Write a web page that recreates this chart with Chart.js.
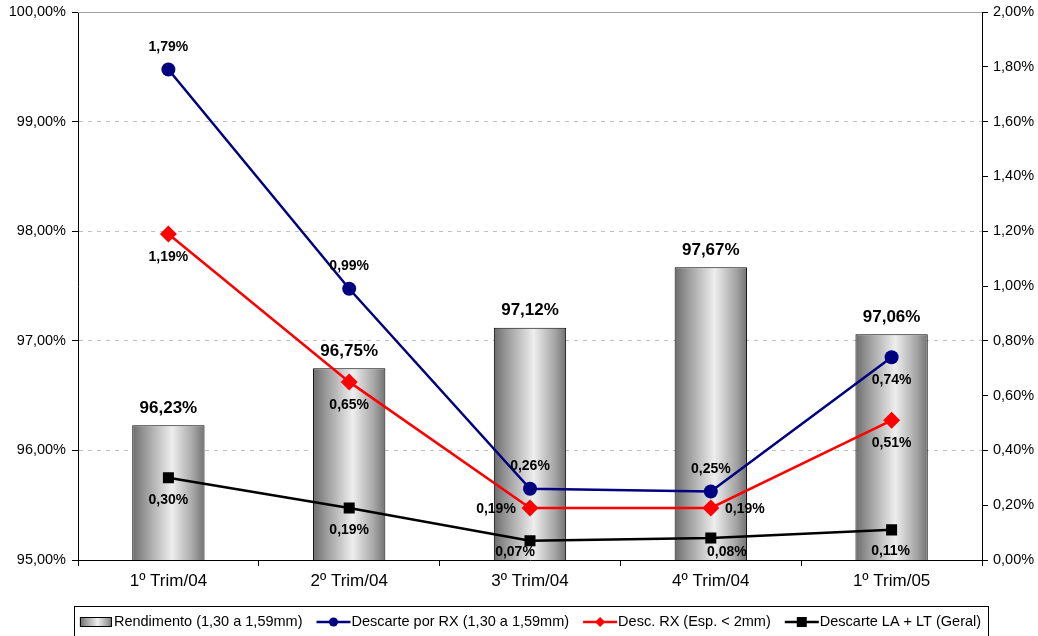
<!DOCTYPE html>
<html>
<head>
<meta charset="utf-8">
<script src="https://cdn.jsdelivr.net/npm/chart.js@4.4.1/dist/chart.umd.min.js"></script>
<style>
  html, body { margin: 0; padding: 0; background: #fff; }
  #wrap { position: relative; width: 1038px; height: 636px; }
</style>
</head>
<body>
<div id="wrap"><canvas id="chart"></canvas></div>
<script>
// Quarterly categories
const categories = ['1º Trim/04', '2º Trim/04', '3º Trim/04', '4º Trim/04', '1º Trim/05'];

// Yield (left axis, %)
const rendimento = [96.23, 96.75, 97.12, 97.67, 97.06];
// Rejections (right axis, %)
const descartePorRX = [1.79, 0.99, 0.26, 0.25, 0.74];
const descRXEsp = [1.19, 0.65, 0.19, 0.19, 0.51];
const descarteLALT = [0.30, 0.19, 0.07, 0.08, 0.11];

// Axis ranges
const leftRange = { min: 95, max: 100, step: 1 };
const rightRange = { min: 0, max: 2, step: 0.2 };

// Series names
const seriesNames = [
  'Rendimento (1,30 a 1,59mm)',
  'Descarte por RX (1,30 a 1,59mm)',
  'Desc. RX (Esp. < 2mm)',
  'Descarte LA + LT (Geral)'
];

const FONT = "'Liberation Sans', Arial, sans-serif";
const fmt = v => v.toFixed(2).replace('.', ',') + '%';

// Label offsets (px) relative to each point, per line series
const labelOffsets = {
  1: [[0, -22], [0, -23], [0, -23], [0, -22], [0, 23]],
  2: [[0, 23], [0, 23], [-34, 1], [34, 1], [0, 23]],
  3: [[0, 22], [0, 22], [-15, 11], [16, 14], [-1, 21]]
};

function barGradient(ctx, x0, x1) {
  const g = ctx.createLinearGradient(x0, 0, x1, 0);
  g.addColorStop(0, '#6c6c6c');
  g.addColorStop(0.18, '#9a9a9a');
  g.addColorStop(0.55, '#eeeeee');
  g.addColorStop(0.85, '#a4a4a4');
  g.addColorStop(1, '#727272');
  return g;
}

const BAR_PCT = 0.4;

const labelsPlugin = {
  id: 'valueLabels',
  afterDatasetsDraw(chart) {
    const ctx = chart.ctx;
    ctx.save();
    ctx.fillStyle = '#000';
    ctx.textAlign = 'center';
    ctx.textBaseline = 'middle';
    // Bar labels
    ctx.font = 'bold 17px ' + FONT;
    chart.getDatasetMeta(0).data.forEach((el, i) => {
      ctx.fillText(fmt(rendimento[i]), el.x, el.y - 17);
    });
    // Line labels
    ctx.font = 'bold 14px ' + FONT;
    [1, 2, 3].forEach(di => {
      const vals = chart.data.datasets[di].data;
      chart.getDatasetMeta(di).data.forEach((el, i) => {
        const [dx, dy] = labelOffsets[di][i];
        ctx.fillText(fmt(vals[i]), el.x + dx, el.y + dy);
      });
    });
    ctx.restore();
  }
};

const frameAndLegendPlugin = {
  id: 'frameLegend',
  afterDraw(chart) {
    const ctx = chart.ctx;
    const area = chart.chartArea;
    ctx.save();
    // solid top line of the plot area
    ctx.strokeStyle = '#a0a0a0';
    ctx.lineWidth = 1;
    ctx.beginPath();
    ctx.moveTo(area.left, Math.round(area.top) + 0.5);
    ctx.lineTo(area.right, Math.round(area.top) + 0.5);
    ctx.stroke();

    // legend
    ctx.font = '14.5px ' + FONT;
    const symW = 34, gapSym = 1, gapItem = 14;
    const widths = seriesNames.map(n => symW + gapSym + ctx.measureText(n).width);
    const total = widths.reduce((a, b) => a + b, 0) + gapItem * (seriesNames.length - 1);
    const cx = (area.left + area.right) / 2;
    const boxL = 74, boxR = 988, boxT = 606;
    ctx.strokeStyle = '#000';
    ctx.strokeRect(boxL + 0.5, boxT + 0.5, boxR - boxL, 40);
    let x = cx - total / 2;
    const y = 622;
    ctx.textBaseline = 'middle';
    ctx.textAlign = 'left';
    const ds = chart.data.datasets;
    seriesNames.forEach((name, i) => {
      if (i === 0) {
        ctx.fillStyle = barGradient(ctx, x + 1, x + symW - 1);
        ctx.fillRect(x + 1, y - 5, symW - 2, 10);
        ctx.strokeStyle = '#000';
        ctx.strokeRect(x + 1.5, y - 4.5, symW - 3, 9);
      } else {
        const col = ds[i].borderColor;
        ctx.strokeStyle = col;
        ctx.fillStyle = col;
        ctx.lineWidth = 2.5;
        ctx.beginPath();
        ctx.moveTo(x, y);
        ctx.lineTo(x + symW, y);
        ctx.stroke();
        const mx = x + symW / 2;
        ctx.beginPath();
        if (i === 1) {
          ctx.arc(mx, y, 4.5, 0, Math.PI * 2);
        } else if (i === 2) {
          ctx.moveTo(mx, y - 5); ctx.lineTo(mx + 5, y); ctx.lineTo(mx, y + 5); ctx.lineTo(mx - 5, y); ctx.closePath();
        } else {
          ctx.rect(mx - 5, y - 5, 10, 10);
        }
        ctx.fill();
        ctx.lineWidth = 1;
      }
      ctx.fillStyle = '#000';
      ctx.fillText(name, x + symW + gapSym, y);
      x += widths[i] + gapItem;
    });
    ctx.restore();
  }
};

// vertical axes: fixed width, no extra label overhang padding
const fixVertical = w => s => {
  s.width = w;
  s.paddingTop = 0;
  s.paddingBottom = 0;
};

new Chart(document.getElementById('chart'), {
  type: 'bar',
  data: {
    labels: categories,
    datasets: [
      {
        type: 'bar',
        label: seriesNames[0],
        data: rendimento,
        yAxisID: 'y',
        order: 5,
        barPercentage: BAR_PCT,
        categoryPercentage: 1,
        borderColor: '#000',
        borderWidth: 1,
        backgroundColor: (c) => {
          const xs = c.chart.scales.x;
          if (!xs || c.dataIndex === undefined || !xs.width) return '#bbbbbb';
          const center = xs.getPixelForValue(c.dataIndex);
          const w = xs.width / categories.length * BAR_PCT;
          return barGradient(c.chart.ctx, center - w / 2, center + w / 2);
        }
      },
      {
        type: 'line',
        label: seriesNames[1],
        data: descartePorRX,
        yAxisID: 'y1',
        order: 2,
        borderColor: '#000080',
        backgroundColor: '#000080',
        borderWidth: 2.5,
        pointStyle: 'circle',
        pointRadius: 7,
        pointBorderWidth: 0,
        tension: 0
      },
      {
        type: 'line',
        label: seriesNames[2],
        data: descRXEsp,
        yAxisID: 'y1',
        order: 3,
        borderColor: '#ff0000',
        backgroundColor: '#ff0000',
        borderWidth: 2.5,
        pointStyle: 'rectRot',
        pointRadius: 8.5,
        pointBorderWidth: 0,
        tension: 0
      },
      {
        type: 'line',
        label: seriesNames[3],
        data: descarteLALT,
        yAxisID: 'y1',
        order: 1,
        borderColor: '#000000',
        backgroundColor: '#000000',
        borderWidth: 2.5,
        pointStyle: 'rect',
        pointRadius: 7.8,
        pointBorderWidth: 0,
        tension: 0
      }
    ]
  },
  options: {
    responsive: true,
    maintainAspectRatio: false,
    animation: false,
    layout: { padding: { top: 12, bottom: 36, left: 0, right: 0 } },
    plugins: {
      legend: { display: false },
      tooltip: { enabled: false }
    },
    scales: {
      x: {
        offset: true,
        grid: { offset: true, drawOnChartArea: false, drawTicks: true, tickLength: 6, tickColor: '#000', tickWidth: 1 },
        border: { color: '#000', width: 1 },
        ticks: { color: '#000', font: { family: FONT, size: 17 }, padding: 5, maxRotation: 0 },
        afterFit: s => { s.height = 40; s.paddingLeft = 0; s.paddingRight = 0; }
      },
      y: {
        position: 'left',
        min: leftRange.min,
        max: leftRange.max,
        ticks: {
          stepSize: leftRange.step,
          color: '#000',
          font: { family: FONT, size: 14.5 },
          padding: 6,
          callback: v => fmt(v)
        },
        grid: {
          color: c => (c.tick && (c.tick.value === leftRange.min || c.tick.value === leftRange.max)) ? 'rgba(0,0,0,0)' : '#c0c0c0',
          tickColor: '#000',
          tickLength: 6,
          lineWidth: 1
        },
        border: { color: '#000', width: 1, dash: [4, 5] },
        afterFit: fixVertical(78)
      },
      y1: {
        position: 'right',
        min: rightRange.min,
        max: rightRange.max,
        ticks: {
          stepSize: rightRange.step,
          color: '#000',
          font: { family: FONT, size: 14.5 },
          padding: 5,
          callback: v => fmt(v)
        },
        grid: { drawOnChartArea: false, tickColor: '#000', tickLength: 6 },
        border: { color: '#000', width: 1 },
        afterFit: fixVertical(56)
      }
    }
  },
  plugins: [labelsPlugin, frameAndLegendPlugin]
});
</script>
</body>
</html>
